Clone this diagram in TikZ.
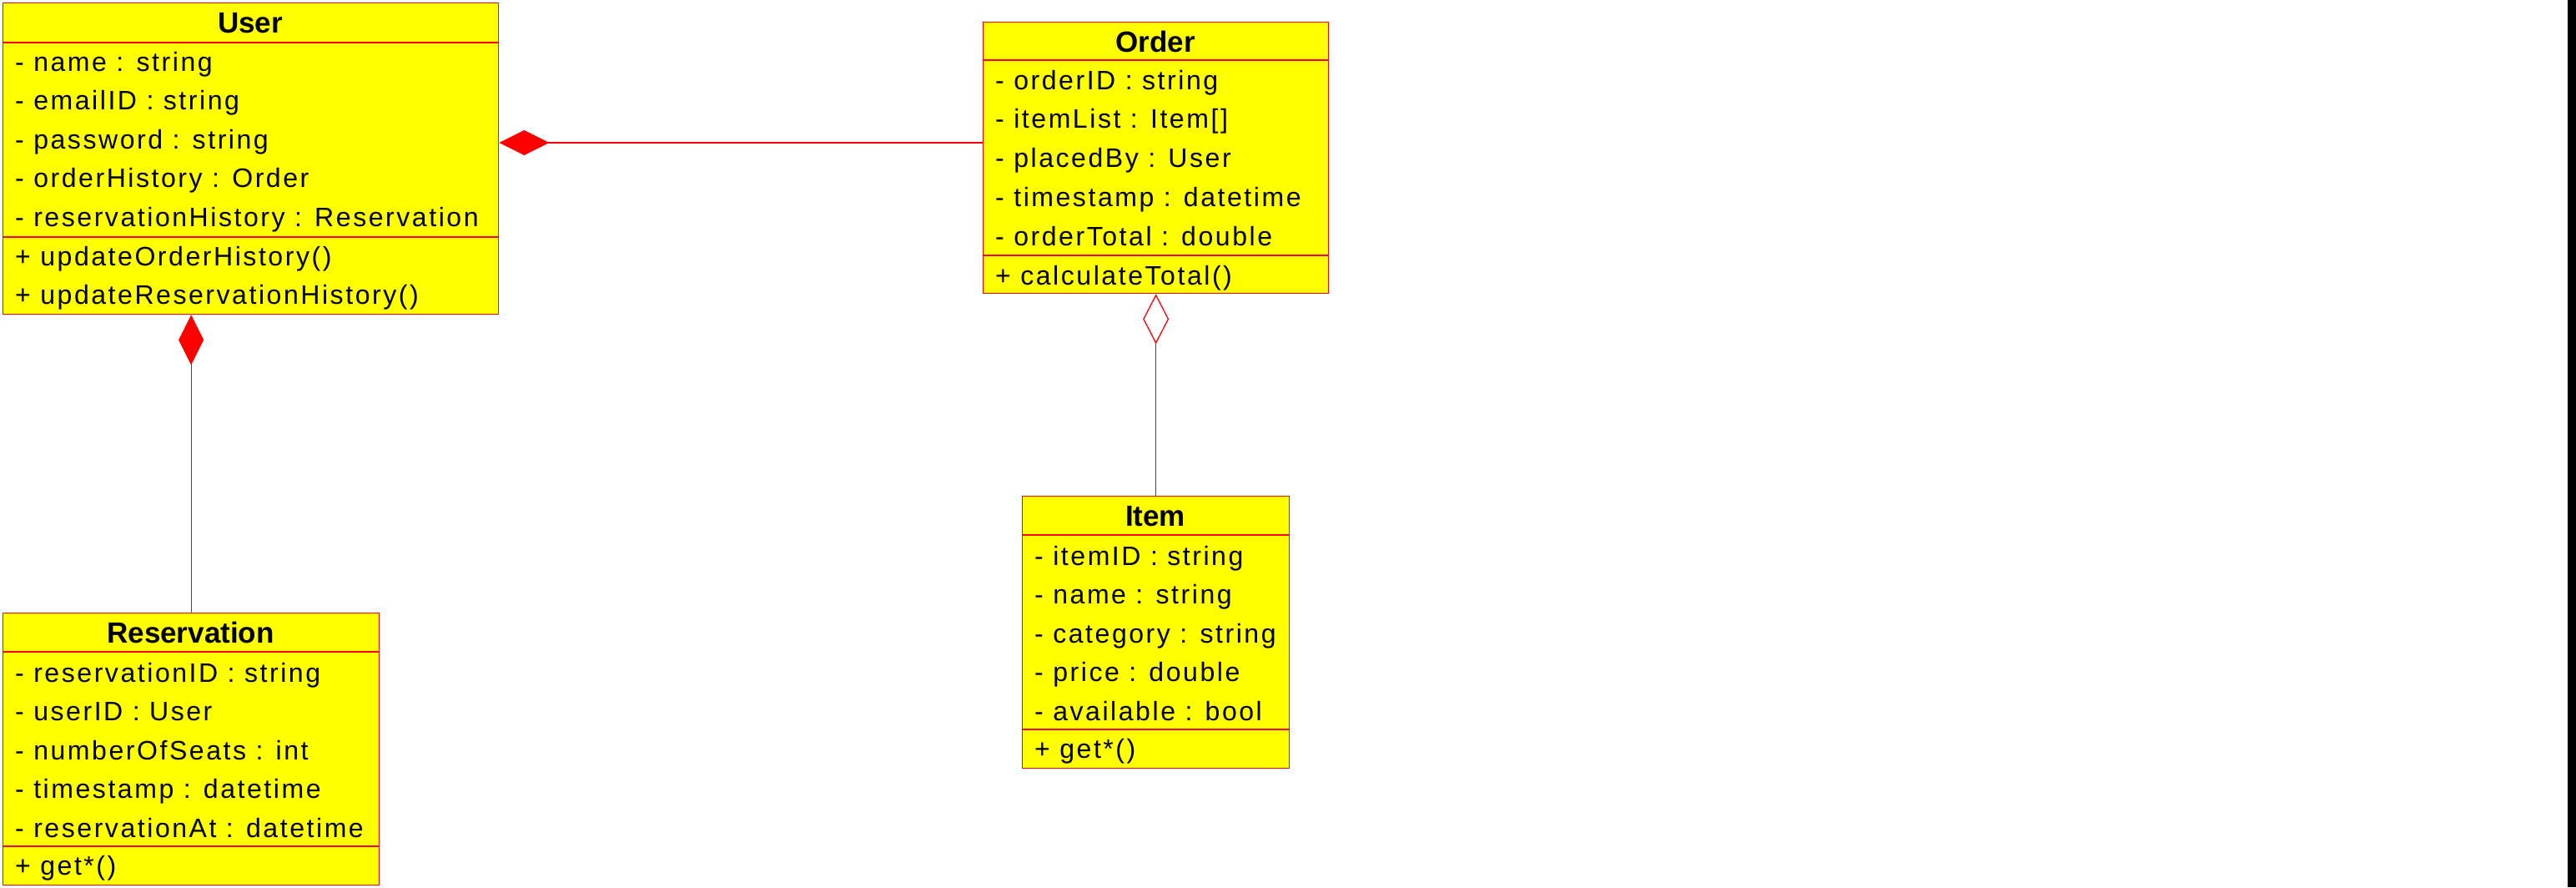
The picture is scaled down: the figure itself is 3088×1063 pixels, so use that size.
\documentclass[tikz,border=0pt]{standalone}
\usepackage{fontspec}
\setmainfont{Liberation Sans}
\newfontfamily\attrfont[LetterSpace=8]{Liberation Sans}
\usetikzlibrary{arrows.meta}
\definecolor{umlyellow}{HTML}{FFFF00}
\definecolor{umlred}{HTML}{FF0000}
\tikzset{
  classbox/.style={draw=umlred, fill=umlyellow, line width=1.3pt, inner sep=0pt, anchor=north west},
  sepline/.style={draw=umlred, line width=1.3pt},
  title/.style={font=\fontsize{35}{40}\selectfont\bfseries, anchor=base, inner sep=0pt},
  attr/.style={font=\attrfont\fontsize{32}{40}\selectfont, anchor=base west, inner sep=0pt},
  assoc/.style={draw=umlred, line width=1.3pt},
  compo/.style={assoc, {Diamond[length=60pt, width=30pt, fill=umlred]}-},
  aggr/.style={assoc, {Diamond[open, length=60pt, width=31pt, fill=white]}-},
}
\begin{document}
\begin{tikzpicture}[x=1pt,y=-1pt]
\fill[white] (0,0) rectangle (3088,1063);
\useasboundingbox (0,0) rectangle (3088,1063);
\fill[black] (3078,0) rectangle (3088,1063);

% User
\node[classbox, minimum width=594pt, minimum height=373pt] (user) at (3,3) {};
\draw[sepline] (3,51) -- (597,51);
\draw[sepline] (3,284) -- (597,284);
\node[title] (user-t) at (300,39) {User};
\foreach \t [count=\i] in {- name : string, - emailID : string, - password : string, - orderHistory : Order, - reservationHistory : Reservation}
  \node[attr] (user-a\i) at (18,{85+(\i-1)*46.6}) {\t};
\node[attr] (user-m1) at (18,318) {+ updateOrderHistory()};
\node[attr] (user-m2) at (18,364.6) {+ updateReservationHistory()};

% Order
\node[classbox, minimum width=414pt, minimum height=325pt] (order) at (1178,26) {};
\draw[sepline] (1178,72) -- (1592,72);
\draw[sepline] (1178,306) -- (1592,306);
\node[title] (order-t) at (1385,62) {Order};
\foreach \t [count=\i] in {- orderID : string, - itemList : Item[], - placedBy : User, - timestamp : datetime, - orderTotal : double}
  \node[attr] (order-a\i) at (1193,{107+(\i-1)*46.8}) {\t};
\node[attr] (order-m1) at (1193,341) {+ calculateTotal()};

% Item
\node[classbox, minimum width=320pt, minimum height=326pt] (item) at (1225,594) {};
\draw[sepline] (1225,641) -- (1545,641);
\draw[sepline] (1225,874) -- (1545,874);
\node[title] (item-t) at (1385,630) {Item};
\foreach \t [count=\i] in {- itemID : string, - name : string, - category : string, - price : double, - available : bool}
  \node[attr] (item-a\i) at (1240,{677+(\i-1)*46.6}) {\t};
\node[attr] (item-m1) at (1240,908) {+ get*()};

% Reservation
\node[classbox, minimum width=451pt, minimum height=326pt] (res) at (3,734) {};
\draw[sepline] (3,781) -- (454,781);
\draw[sepline] (3,1014) -- (454,1014);
\node[title] (res-t) at (228.5,770) {Reservation};
\foreach \t [count=\i] in {- reservationID : string, - userID : User, - numberOfSeats : int, - timestamp : datetime, - reservationAt : datetime}
  \node[attr] (res-a\i) at (18,{817+(\i-1)*46.6}) {\t};
\node[attr] (res-m1) at (18,1048) {+ get*()};

% Connectors
\coordinate (uoy) at (0,171);
\draw[compo] (user.east |- uoy) -- (order.west |- uoy);
\draw[compo] (user.south -| res.north) -- (res.north);
\draw[aggr] (order.south) -- (item.north);
\end{tikzpicture}
\end{document}
